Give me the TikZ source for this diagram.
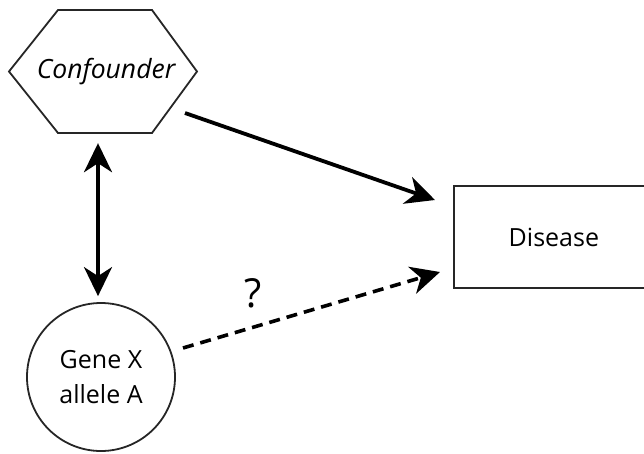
\documentclass[tikz,border=0pt]{standalone}
\usepackage{fontspec}
\setmainfont{Open Sans}
\usetikzlibrary{arrows.meta}
\begin{document}
\begin{tikzpicture}[x=1pt,y=-1pt,
  shapeline/.style={line width=1.8pt, draw=black!85},
  lbl/.style={font=\fontsize{25}{35}\selectfont, align=center, text=black},
  bighead/.tip={Stealth[length=29pt,width=28pt,inset=9pt]},
  arr/.style={line width=3.8pt, -bighead},
  dblarr/.style={line width=3.6pt, bighead-bighead},
  dasharr/.style={line width=3.6pt, dash pattern=on 11pt off 7pt, -{Stealth[length=29pt,width=28pt,inset=9pt]}},
]
\useasboundingbox (0,0) rectangle (644,453);

% confounder hexagon
\node[minimum width=188pt, minimum height=123pt, inner sep=0pt] (conf) at (103,71.5) {};
\draw[shapeline] (9,71.5) -- (58,10) -- (152,10) -- (197,71.5) -- (152,133) -- (58,133) -- cycle;
\node[lbl, inner sep=0pt, font=\fontsize{26.5}{35}\selectfont\itshape] (conftext) at (106,72) {Confounder};

% gene allele circle
\node[lbl, circle, shapeline, minimum size=148pt, inner sep=0pt] (gene) at (101,377) {Gene X\\allele A};

% outcome box, cut at the right edge
\node[lbl, rectangle, shapeline, minimum width=200pt, minimum height=102pt, anchor=west] (dis) at (453,237) {Disease};

% connectors
\draw[dblarr] ([xshift=-5pt,yshift=-10pt]conf.south) -- ([xshift=-3pt,yshift=6pt]gene.north);
\draw[arr] ([xshift=82pt,yshift=-41.5pt]conf.center) -- ([xshift=-18pt,yshift=37pt]dis.west);
\draw[dasharr] ([xshift=82pt,yshift=29pt]gene.center) -- ([xshift=-13pt,yshift=-35pt]dis.west);
\node[lbl, font=\fontsize{40}{40}\selectfont, inner sep=0pt] (q) at (253,293) {?};
\end{tikzpicture}
\end{document}
